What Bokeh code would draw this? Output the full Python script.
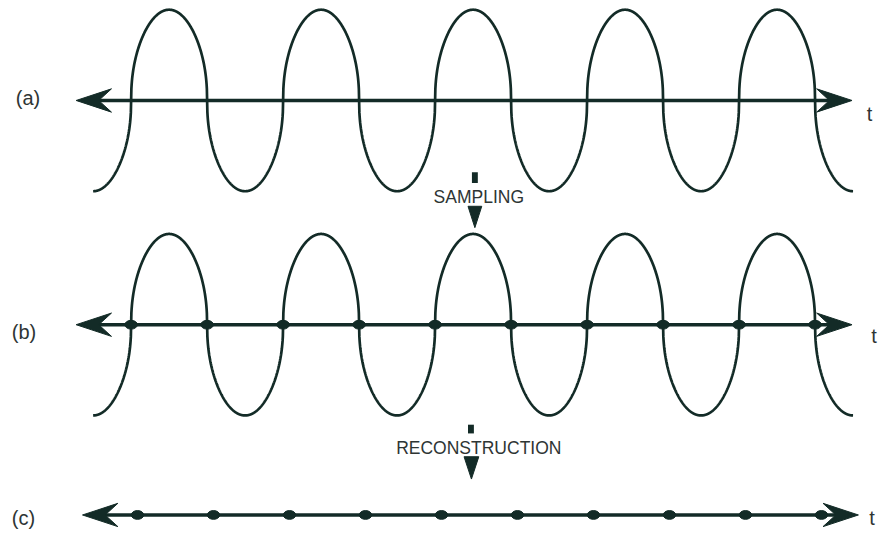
import numpy as np
from bokeh.plotting import figure
from bokeh.models import Range1d
from bokeh.embed import file_html
from bokeh.resources import INLINE
from bokeh.core.properties import value

# ---------------- data ----------------
sample_times = [0, 1, 2, 3, 4, 5, 6, 7, 8, 9]      # zero crossings = sample instants
wave_span = [-0.5, 9.5]                              # wave runs trough to trough (5 cycles)
wave_amplitude = 1.0
panel_labels = ["(a)", "(b)", "(c)"]
axis_label = "t"
step_labels = ["SAMPLING", "RECONSTRUCTION"]

# ---------------- layout (reference pixels) ----------------
W, H = 880, 530
REF_W, REF_H = 896, 546
X0_PX, DT_PX = 133.0, 77.375     # x of t=0, px per sample interval
AMP_PX = 93.5
BASES = [103, 334, 530]          # baseline of panels a, b, c
SHIFTS = [0.0, 0.0, 6.5]         # horizontal offset of each panel
INK = "#132b27"
TXT = "#2e3534"
FONT = value("Liberation Sans")


def tx(px):
    return (px - X0_PX) / DT_PX


p = figure(width=W, height=H, output_backend="svg", toolbar_location=None,
           x_range=Range1d(tx(0), tx(REF_W)), y_range=Range1d(REF_H, 0),
           x_axis_type=None, y_axis_type=None, min_border=0)
p.grid.visible = False
p.outline_line_color = None
p.background_fill_color = "white"
p.border_fill_color = "white"

# ---------------- waves (panels a and b) ----------------
tt = np.linspace(wave_span[0], wave_span[1], 3001)
s = np.sin(np.pi * tt)
shape = np.sign(s) * np.abs(s) ** 0.45 * wave_amplitude
for base in BASES[:2]:
    p.line(tt, base - AMP_PX * shape, line_color=INK, line_width=2.7)

# ---------------- time axes with arrow heads ----------------
for base, sh in zip(BASES, SHIFTS):
    ltip, rtip = 77 + sh, 867 + sh
    p.line([tx(ltip + 20), tx(rtip - 20)], [base, base], line_color=INK, line_width=3.6)
    p.patches(
        [[tx(ltip), tx(ltip + 36), tx(ltip + 23), tx(ltip + 36)],
         [tx(rtip), tx(rtip - 36), tx(rtip - 23), tx(rtip - 36)]],
        [[base, base - 12, base, base + 12],
         [base, base - 12, base, base + 12]],
        fill_color=INK, line_color=INK, line_width=1)

# ---------------- sample dots (panels b and c) ----------------
for base, sh in zip(BASES[1:], SHIFTS[1:]):
    xs = [t + sh / DT_PX for t in sample_times]
    p.ellipse(xs, [base] * len(xs), width=12.5, height=8.8,
              width_units="screen", height_units="screen",
              fill_color=INK, line_color=INK)

# ---------------- labels ----------------
p.text(x=[tx(15.5), tx(11.5), tx(11.5)], y=[100, 342, 533], text=panel_labels,
       text_font=FONT, text_font_size=value("20px"), text_color=TXT,
       text_align="left", text_baseline="alphabetic")
p.text(x=[tx(882), tx(886.5), tx(884.5)], y=[116.5, 346, 533], text=[axis_label] * 3,
       text_font=FONT, text_font_size=value("20px"), text_color=TXT,
       text_align="left", text_baseline="alphabetic")

# ---------------- step annotations ----------------
p.text(x=[tx(487), tx(487)], y=[202, 461], text=step_labels,
       text_font=FONT, text_font_size=value("17.5px"), text_color=TXT,
       text_align="center", text_baseline="alphabetic")
# small ticks above text
p.quad(left=[tx(480), tx(476)], right=[tx(486), tx(482)],
       top=[177, 437], bottom=[188, 446], fill_color=INK, line_color=None)
# down-pointing triangles
p.patches([[tx(476), tx(490), tx(483)], [tx(472), tx(487), tx(479.5)]],
          [[212, 212, 234], [470, 470, 493]],
          fill_color=INK, line_color=INK, line_width=1)

open("out.html", "w").write(file_html(p, INLINE))
